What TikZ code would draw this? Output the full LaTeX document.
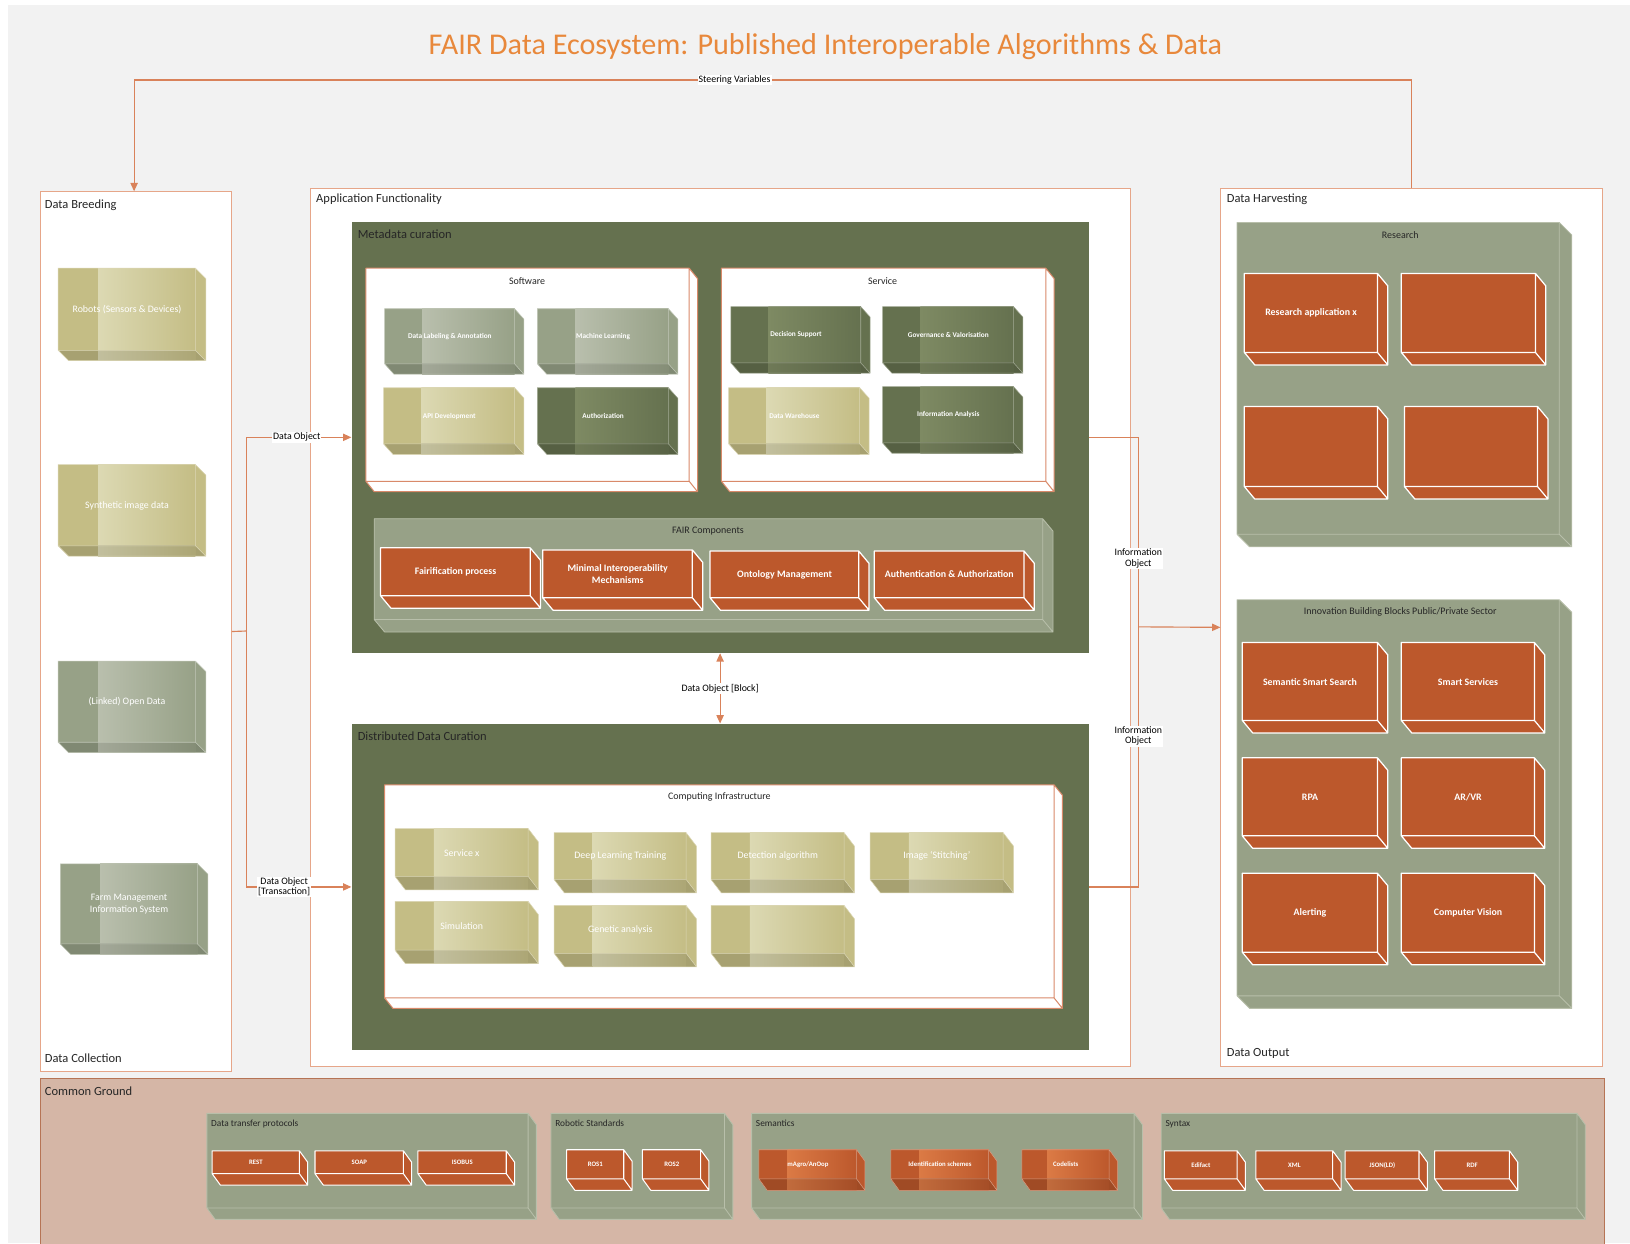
\documentclass[tikz,border=0pt]{standalone}
\usepackage{fontspec}
\setmainfont{Carlito}
\usetikzlibrary{arrows.meta}
\definecolor{bgC}{HTML}{F2F2F2}
\definecolor{titleC}{HTML}{E8883B}
\definecolor{connC}{HTML}{D9825A}
\definecolor{contC}{HTML}{E6A689}
\definecolor{wbC}{HTML}{D98A6A}
\definecolor{dgC}{HTML}{65714F}
\definecolor{dgL}{HTML}{7E8A63}
\definecolor{ggC}{HTML}{97A187}
\definecolor{ggE}{HTML}{B8BFAA}
\definecolor{lgL}{HTML}{B9BFAD}
\definecolor{khC}{HTML}{C4BD85}
\definecolor{khL}{HTML}{DCD9B3}
\definecolor{orC}{HTML}{BC582C}
\definecolor{orL}{HTML}{DB7A45}
\definecolor{cgC}{HTML}{D5B6A6}
\definecolor{cgE}{HTML}{B67455}
\def\cdx{9}\def\cdy{9}\def\owl{1.2pt}
\tikzset{
  gtext/.style={font=\fontsize{9.5}{11}\selectfont, text=white, align=center},
  otext/.style={font=\bfseries\fontsize{9.5}{11}\selectfont, text=white, align=center},
  ttl/.style={font=\fontsize{12}{14}\selectfont, text=black!85, inner sep=0pt},
  sttl/.style={font=\fontsize{9.6}{11}\selectfont, text=black!85, inner sep=0pt},
  conn/.style={draw=connC, line width=1.1pt},
  tip/.style={-{Triangle[length=8pt,width=7pt]}},
  lbl/.style={fill=white, inner sep=1pt, font=\fontsize{9.5}{10}\selectfont, align=center, text=black},
  cont/.style={draw=contC, line width=1pt, fill=white, inner sep=0pt, anchor=north west},
}
% gradient 3D box: name x0 y0 x1 y1 base light text
\newcommand\gcube[8]{%
  \fill[#6] (#2,#3) -- ({#4-\cdx},#3) -- (#4,{#3+\cdy}) -- (#4,#5) -- ({#2+\cdx},#5) -- (#2,{#5-\cdy}) -- cycle;
  \fill[#6!85!black] (#2,{#5-\cdy}) -- ({#4-\cdx},{#5-\cdy}) -- (#4,#5) -- ({#2+\cdx},#5) -- cycle;
  \shade[left color=#7, right color=#6] ({#2+0.27*(#4-#2)},#3) rectangle ({#4-\cdx},{#5-\cdy});
  \shade[left color=#7!88!black, right color=#6!88!black] ({#2+0.27*(#4-#2)},{#5-\cdy}) rectangle ({#4-\cdx},#5);
  \draw[#6!60!white, line width=0.5pt] (#2,#3) rectangle ({#4-\cdx},{#5-\cdy}) ({#4-\cdx},#3) -- (#4,{#3+\cdy}) -- (#4,#5) -- ({#2+\cdx},#5) -- (#2,{#5-\cdy}) ({#4-\cdx},{#5-\cdy}) -- (#4,#5);
  \node[gtext, inner sep=0pt, minimum width={(#4-\cdx-#2)*1pt}, minimum height={(#5-\cdy-#3)*1pt}, anchor=north west] (#1) at (#2,#3) {#8};
}
% orange 3D box with white edges: name x0 y0 x1 y1 text
\newcommand\ocube[6]{%
  \fill[orC] (#2,#3) -- ({#4-\cdx},#3) -- (#4,{#3+\cdy}) -- (#4,#5) -- ({#2+\cdx},#5) -- (#2,{#5-\cdy}) -- cycle;
  \draw[white, line width=\owl, line join=round] (#2,#3) rectangle ({#4-\cdx},{#5-\cdy}) ({#4-\cdx},#3) -- (#4,{#3+\cdy}) -- (#4,#5) -- ({#2+\cdx},#5) -- (#2,{#5-\cdy}) ({#4-\cdx},{#5-\cdy}) -- (#4,#5);
  \node[otext, inner sep=0pt, minimum width={(#4-\cdx-#2)*1pt}, minimum height={(#5-\cdy-#3)*1pt}, anchor=north west] (#1) at (#2,#3) {#6};
}
% container 3D box: name x0 y0 x1 y1 fill edge
\newcommand\ccube[7]{%
  \fill[#6] (#2,#3) -- ({#4-\cdx},#3) -- (#4,{#3+\cdy}) -- (#4,#5) -- ({#2+\cdx},#5) -- (#2,{#5-\cdy}) -- cycle;
  \draw[#7, line join=round] (#2,#3) rectangle ({#4-\cdx},{#5-\cdy}) ({#4-\cdx},#3) -- (#4,{#3+\cdy}) -- (#4,#5) -- ({#2+\cdx},#5) -- (#2,{#5-\cdy}) ({#4-\cdx},{#5-\cdy}) -- (#4,#5);
  \node[inner sep=0pt, minimum width={(#4-\cdx-#2)*1pt}, minimum height={(#5-\cdy-#3)*1pt}, anchor=north west] (#1) at (#2,#3) {};
}
% plain rectangle node: name x0 y0 x1 y1 style
\newcommand\rnode[6]{%
  \node[#6, minimum width={(#4-#2)*1pt}, minimum height={(#5-#3)*1pt}, anchor=north west] (#1) at (#2,#3) {};
}
\begin{document}
\begin{tikzpicture}[x=1pt,y=-1pt]
\useasboundingbox (0,0) rectangle (1568,1196);
\fill[bgC] (8,5) rectangle (1568,1196);

\node[font=\fontsize{29}{34}\selectfont, text=titleC] (title) at (794,45) {FAIR Data Ecosystem: Published Interoperable Algorithms \& Data};

% ---------- main containers ----------
\rnode{breed}{38}{184}{222}{1030}{cont}
\rnode{appf}{298}{181}{1087}{1025}{cont}
\rnode{harvest}{1174}{181}{1541}{1025}{cont}
\rnode{cground}{38}{1037}{1543}{1215}{draw=cgE, line width=1pt, fill=cgC, inner sep=0pt}

\node[ttl, anchor=west] (breedT) at (43,197) {Data Breeding};
\node[ttl, anchor=west] (breedB) at (43,1018) {Data Collection};
\node[ttl, anchor=west] (appfT) at (304,192) {Application Functionality};
\node[ttl, anchor=west] (harvT) at (1180,192) {Data Harvesting};
\node[ttl, anchor=west] (harvB) at (1180,1013) {Data Output};
\node[ttl, anchor=west] (cgT) at (43,1050) {Common Ground};

% ---------- data breeding ----------
\def\cdx{10}\def\cdy{10}
\gcube{robots}{56}{258}{198}{347}{khC}{khL}{Robots (Sensors \& Devices)}
\gcube{synth}{56}{447}{198}{535}{khC}{khL}{Synthetic image data}
\gcube{lod}{56}{636}{198}{724}{ggC}{lgL}{(Linked) Open Data}
\gcube{fmis}{58}{831}{200}{918}{ggC}{lgL}{Farm Management\\Information System}

% ---------- metadata curation ----------
\rnode{meta}{338}{213}{1047}{628}{fill=dgC, inner sep=0pt}
\node[ttl, anchor=west] (metaT) at (344,225) {Metadata curation};

\def\cdx{8}\def\cdy{10}
\ccube{soft}{352}{258}{671}{473}{white}{wbC, line width=1pt}
\node[sttl] (softT) at (507,270) {Software};
\ccube{serv}{694}{258}{1014}{473}{white}{wbC, line width=1pt}
\node[sttl] (servT) at (849,270) {Service};

\begin{scope}[gtext/.style={font=\bfseries\fontsize{7}{8.5}\selectfont, text=white, align=center}]
\def\cdx{9}\def\cdy{10}
\gcube{dla}{370}{297}{504}{360}{ggC}{lgL}{Data Labeling \& Annotation}
\gcube{ml}{517}{297}{652}{360}{ggC}{lgL}{Machine Learning}
\gcube{api}{369}{373}{504}{437}{khC}{khL}{API Development}
\gcube{auth}{517}{373}{652}{437}{dgC}{dgL}{Authorization}
\gcube{ds}{703}{295}{837}{359}{dgC}{dgL}{Decision Support}
\gcube{gov}{849}{295}{984}{359}{dgC}{dgL}{Governance \& Valorisation}
\gcube{dw}{701}{373}{836}{437}{khC}{khL}{Data Warehouse}
\gcube{ia}{849}{372}{984}{436}{dgC}{dgL}{Information Analysis}
\end{scope}

\def\cdx{10}\def\cdy{12}
\ccube{fairc}{360}{499}{1013}{608}{ggC}{ggE, line width=0.8pt}
\node[sttl] (faircT) at (681,511) {FAIR Components};
\def\cdx{10}\def\cdy{12}
\ocube{fp}{366}{527}{520}{585}{Fairification process}
\ocube{mim}{522}{529}{676}{587}{Minimal Interoperability\\Mechanisms}
\ocube{om}{683}{530}{836}{587}{Ontology Management}
\ocube{aa}{841}{530}{995}{587}{Authentication \& Authorization}

% ---------- distributed data curation ----------
\rnode{ddc}{338}{696}{1047}{1010}{fill=dgC, inner sep=0pt}
\node[ttl, anchor=west] (ddcT) at (344,708) {Distributed Data Curation};
\def\cdx{8}\def\cdy{10}
\ccube{comp}{370}{755}{1022}{970}{white}{wbC, line width=1pt}
\node[sttl] (compT) at (692,767) {Computing Infrastructure};
\def\cdx{10}\def\cdy{13}
\gcube{sx}{380}{797}{518}{856}{khC}{khL}{Service x}
\gcube{dlt}{533}{801}{670}{859}{khC}{khL}{Deep Learning Training}
\gcube{det}{684}{801}{822}{859}{khC}{khL}{Detection algorithm}
\gcube{stitch}{837}{801}{975}{859}{khC}{khL}{Image `Stitching'}
\gcube{sim}{380}{867}{518}{927}{khC}{khL}{Simulation}
\gcube{gen}{533}{871}{670}{930}{khC}{khL}{Genetic analysis}
\gcube{emp}{684}{871}{822}{930}{khC}{khL}{}

% ---------- data harvesting ----------
\def\cdx{12}\def\cdy{12}
\ccube{research}{1190}{214}{1512}{526}{ggC}{ggE, line width=0.8pt}
\node[sttl] (researchT) at (1347,226) {Research};
\ccube{innov}{1190}{577}{1512}{970}{ggC}{ggE, line width=0.8pt}
\node[sttl] (innovT) at (1347,589) {Innovation Building Blocks Public/Private Sector};
\def\cdx{10}\def\cdy{12}
\ocube{ra}{1197}{263}{1335}{351}{Research application x}
\ocube{rb}{1348}{263}{1487}{351}{}
\ocube{rc}{1197}{391}{1335}{480}{}
\ocube{rd}{1351}{391}{1489}{480}{}
\ocube{sss}{1195}{618}{1335}{705}{Semantic Smart Search}
\ocube{ssv}{1348}{618}{1486}{705}{Smart Services}
\ocube{rpa}{1195}{729}{1335}{816}{RPA}
\ocube{arvr}{1348}{729}{1486}{816}{AR/VR}
\ocube{alert}{1195}{840}{1335}{928}{Alerting}
\ocube{cv}{1348}{840}{1486}{928}{Computer Vision}

% ---------- common ground ----------
\def\cdx{8}\def\cdy{11}
\ccube{dtp}{199}{1071}{516}{1173}{ggC}{ggE, line width=0.8pt}
\ccube{robst}{530}{1071}{705}{1173}{ggC}{ggE, line width=0.8pt}
\ccube{sem}{723}{1071}{1099}{1173}{ggC}{ggE, line width=0.8pt}
\ccube{syn}{1117}{1071}{1525}{1173}{ggC}{ggE, line width=0.8pt}
\node[sttl, anchor=west, font=\fontsize{9}{10}\selectfont] (dtpT) at (203,1081) {Data transfer protocols};
\node[sttl, anchor=west, font=\fontsize{9}{10}\selectfont] (robstT) at (534,1081) {Robotic Standards};
\node[sttl, anchor=west, font=\fontsize{9}{10}\selectfont] (semT) at (727,1081) {Semantics};
\node[sttl, anchor=west, font=\fontsize{9}{10}\selectfont] (synT) at (1121,1081) {Syntax};
\begin{scope}[otext/.style={font=\bfseries\fontsize{6.5}{7.5}\selectfont, text=white, align=center},
              gtext/.style={font=\bfseries\fontsize{6.5}{7.5}\selectfont, text=white, align=center}]
\def\owl{1pt}
\ocube{rest}{204}{1107}{296}{1140}{REST}
\ocube{soap}{303}{1107}{396}{1140}{SOAP}
\ocube{isobus}{402}{1107}{495}{1140}{ISOBUS}
\ocube{ros1}{545}{1106}{608}{1145}{ROS1}
\ocube{ros2}{618}{1106}{682}{1145}{ROS2}
\gcube{agro}{730}{1106}{832}{1145}{orC}{orL}{mAgro/AnOop}
\gcube{ids}{857}{1106}{959}{1145}{orC}{orL}{Identification schemes}
\gcube{codes}{983}{1106}{1075}{1145}{orC}{orL}{Codelists}
\ocube{edi}{1120}{1107}{1198}{1145}{Edifact}
\ocube{xml}{1208}{1107}{1290}{1145}{XML}
\ocube{json}{1294}{1107}{1373}{1145}{JSON(LD)}
\ocube{rdf}{1380}{1107}{1460}{1145}{RDF}
\end{scope}

% ---------- connectors ----------
\coordinate (svR) at (1358,77);
\coordinate (svL) at (129,77);
\draw[conn, tip] (svR |- harvest.north) -- (svR) -- node[lbl, pos=0.53] (svlbl) {Steering Variables} (svL) -- (svL |- breed.north);

\coordinate (jL) at (237,607);
\draw[conn] (breed.east) -- (jL);
\draw[conn, tip] (jL) |- node[lbl, pos=0.74] (dolbl) {Data Object} (meta.west);
\draw[conn, tip] (jL) |- node[lbl, pos=0.68] (dotlbl) {Data Object\\{}[Transaction]} (ddc.west);

\coordinate (jR) at (1095,603);
\draw[conn] (meta.east) -| node[lbl, pos=0.82] (io1) {Information\\Object} (jR);
\draw[conn] (ddc.east) -| node[lbl, pos=0.79] (io2) {Information\\Object} (jR);
\draw[conn, tip] (jR) -- (harvest.west);

\draw[conn, {Triangle[length=8pt,width=7pt]}-{Triangle[length=8pt,width=7pt]}] (meta.south) -- node[lbl] (dob) {Data Object [Block]} (ddc.north);
\end{tikzpicture}
\end{document}
